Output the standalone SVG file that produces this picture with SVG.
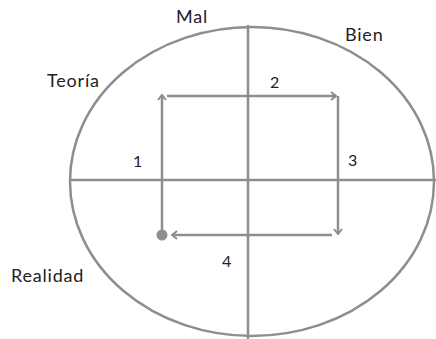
<svg xmlns="http://www.w3.org/2000/svg" width="436" height="339" viewBox="0 0 436 339">
<style>
.ln{stroke:#8e8e8e;stroke-width:2.5;fill:none}
.t{font-family:Lato,"Noto Sans",sans-serif;font-size:18px;letter-spacing:0.8px;fill:#222}
.n{font-family:Lato,"Noto Sans",sans-serif;font-size:16px;fill:#222}
</style>
<defs>
<marker id="ah" viewBox="0 0 10 10" refX="9" refY="5" markerWidth="10" markerHeight="10" markerUnits="userSpaceOnUse" orient="auto">
<path d="M4,1 L9,5 L4,9" fill="none" stroke="#8e8e8e" stroke-width="2"/>
</marker>
</defs>
<rect width="436" height="339" fill="#fff"/>
<g id="frame">
<ellipse class="ln" cx="252" cy="181.5" rx="182" ry="154.5"/>
<line class="ln" x1="70" y1="180" x2="436" y2="180"/>
<line class="ln" x1="248" y1="25" x2="248" y2="339"/>
</g>
<g id="connectors">
<line class="ln" x1="162" y1="235" x2="162" y2="95" marker-end="url(#ah)"/>
<line class="ln" x1="167" y1="96" x2="336" y2="96" marker-end="url(#ah)"/>
<line class="ln" x1="338" y1="96" x2="338" y2="234" marker-end="url(#ah)"/>
<line class="ln" x1="332" y1="235" x2="172" y2="235" marker-end="url(#ah)"/>
</g>
<g id="start"><circle cx="162" cy="235" r="5.5" fill="#8e8e8e"/></g>
<g id="labels">
<text class="t" x="176" y="23">Mal</text>
<text class="t" x="345" y="41">Bien</text>
<text class="t" x="47" y="87">Teoría</text>
<text class="t" x="11" y="282">Realidad</text>
<text class="n" x="270" y="88">2</text>
<text class="n" x="133" y="167">1</text>
<text class="n" x="348" y="166">3</text>
<text class="n" x="222" y="267">4</text>
</g>
</svg>
